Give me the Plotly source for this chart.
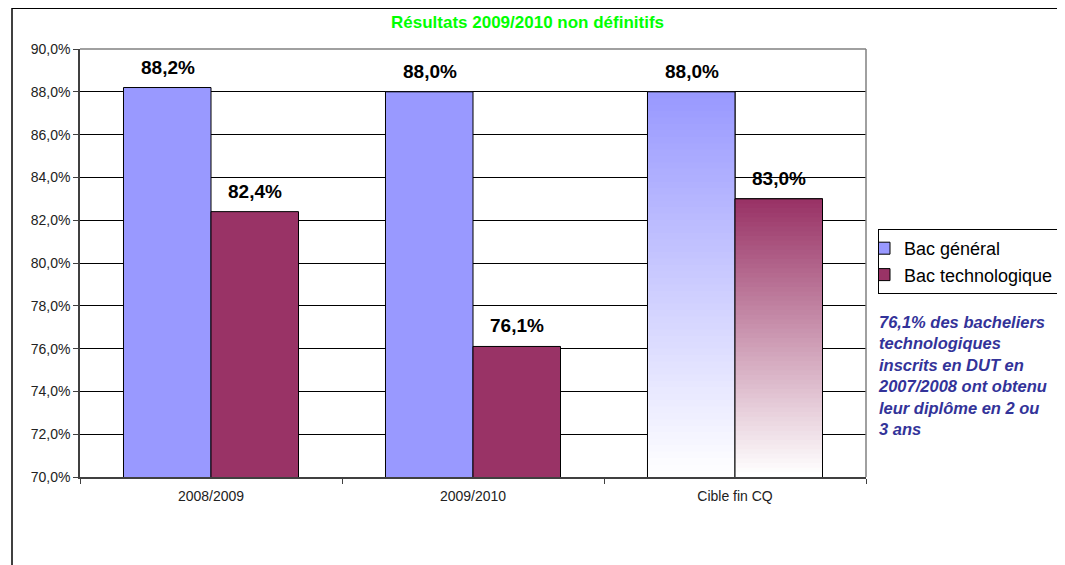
import plotly.graph_objects as go

categories = ["2008/2009", "2009/2010", "Cible fin CQ"]
bac_general = [88.2, 88.0, 88.0]
bac_techno = [82.4, 76.1, 83.0]
y_ticks = [70, 72, 74, 76, 78, 80, 82, 84, 86, 88, 90]
y_tick_labels = ["70,0%", "72,0%", "74,0%", "76,0%", "78,0%", "80,0%",
                 "82,0%", "84,0%", "86,0%", "88,0%", "90,0%"]
title_text = "Résultats 2009/2010 non définitifs"
note_text = ("76,1% des bacheliers<br>technologiques<br>inscrits en DUT en<br>"
             "2007/2008 ont obtenu<br>leur diplôme en 2 ou<br>3 ans")

COL_GEN = (153, 153, 255)
COL_TEC = (153, 51, 102)
Y_MIN, Y_MAX = 70, 90

OFF = 8  # page body margin
W, H = 1065 - OFF, 565 - OFF
L, T = 80 - OFF, 49 - OFF
PW, PH = 786, 428
R, B = W - L - PW, H - T - PH


def px(x):
    return (x - OFF - L) / PW


def py(y):
    return (T + PH - (y - OFF)) / PH


def rgb(c):
    return "rgb(%d,%d,%d)" % c


fig = go.Figure()

fig.add_trace(go.Bar(name="Bac général", x=categories, y=bac_general,
                     offsetgroup="g", marker=dict(color=rgb(COL_GEN),
                     line=dict(color="black", width=1)), hoverinfo="skip"))
fig.add_trace(go.Bar(name="Bac technologique", x=categories, y=bac_techno,
                     offsetgroup="t", marker=dict(color=rgb(COL_TEC),
                     line=dict(color="black", width=1)), hoverinfo="skip"))

# gradient overlay for the target ("Cible fin CQ") bars
N = 60
for grp, col, val in (("g", COL_GEN, bac_general[2]), ("t", COL_TEC, bac_techno[2])):
    for k in range(N):
        t = k / (N - 1)
        c = tuple(round(col[i] * (1 - t) + 255 * t) for i in range(3))
        top = Y_MIN + (val - Y_MIN) * (N - k) / N
        fig.add_trace(go.Bar(x=[categories[2]], y=[top], offsetgroup=grp,
                             marker=dict(color=rgb(c), line=dict(width=0)),
                             showlegend=False, hoverinfo="skip"))
    fig.add_trace(go.Bar(x=[categories[2]], y=[val], offsetgroup=grp,
                         marker=dict(color="rgba(0,0,0,0)",
                                     line=dict(color="black", width=1)),
                         showlegend=False, hoverinfo="skip"))

annotations = []
for vals, shift in ((bac_general, -43.5), (bac_techno, 43.5)):
    for cat, v in zip(categories, vals):
        annotations.append(dict(x=cat, y=v, xshift=shift, yshift=8,
                                yanchor="bottom", showarrow=False,
                                text=("%.1f%%" % v).replace(".", ","),
                                font=dict(family="Arial", size=19, color="black",
                                          weight="bold")))

annotations.append(dict(xref="paper", yref="paper", x=px(876), y=py(311),
                        xanchor="left", yanchor="top", align="left", showarrow=False,
                        text="<b><i>" + note_text.replace("<br>", "</i></b><br><b><i>") + "</i></b>",
                        font=dict(family="Arial", size=16.5, color="#333399")))
annotations.append(dict(xref="paper", yref="paper", x=px(527), y=py(23),
                        xanchor="center", yanchor="middle", showarrow=False,
                        text="<b>" + title_text + "</b>",
                        font=dict(family="Arial", size=17, color="#00FF00")))

shapes = [
    # outer frame
    dict(type="line", xref="paper", yref="paper", x0=px(12), x1=px(12),
         y0=py(8), y1=py(570), line=dict(color="black", width=1.5)),
    dict(type="line", xref="paper", yref="paper", x0=px(12), x1=px(1070),
         y0=py(8), y1=py(8), line=dict(color="black", width=2)),
    # plot area top & right borders
    dict(type="line", xref="paper", yref="paper", x0=0, x1=1, y0=1, y1=1,
         line=dict(color="#808080", width=1.5)),
    dict(type="line", xref="paper", yref="paper", x0=1, x1=1, y0=0, y1=1,
         line=dict(color="#808080", width=1.5)),
]

fig.update_layout(
    width=W, height=H,
    margin=dict(l=L, r=R, t=T, b=B, autoexpand=False),
    paper_bgcolor="white", plot_bgcolor="white",
    barmode="group", bargap=0.332, bargroupgap=0,
    font=dict(family="Arial", size=14, color="black"),
    showlegend=True,
    legend=dict(x=px(878), y=py(229), xanchor="left", yanchor="top",
                bordercolor="black", borderwidth=1, bgcolor="white",
                font=dict(family="Arial", size=18, color="black"),
                tracegroupgap=0, itemwidth=30, indentation=-15),
    annotations=annotations,
    shapes=shapes,
    xaxis=dict(categoryorder="array", categoryarray=categories,
               showline=True, linecolor="#404040", linewidth=1.5,
               ticks="outside", tickson="boundaries", ticklen=5,
               tickcolor="#404040", showgrid=False, ticklabelstandoff=5,
               tickfont=dict(family="Arial", size=14, color="#222")),
    yaxis=dict(range=[Y_MIN, Y_MAX], tickvals=y_ticks, ticktext=y_tick_labels,
               showline=True, linecolor="#404040", linewidth=1.5,
               ticks="outside", ticklen=5, tickcolor="#404040",
               showgrid=True, gridcolor="black", gridwidth=1, zeroline=False,
               tickfont=dict(family="Arial", size=14, color="#222")),
)

fig.write_html("out.html")
